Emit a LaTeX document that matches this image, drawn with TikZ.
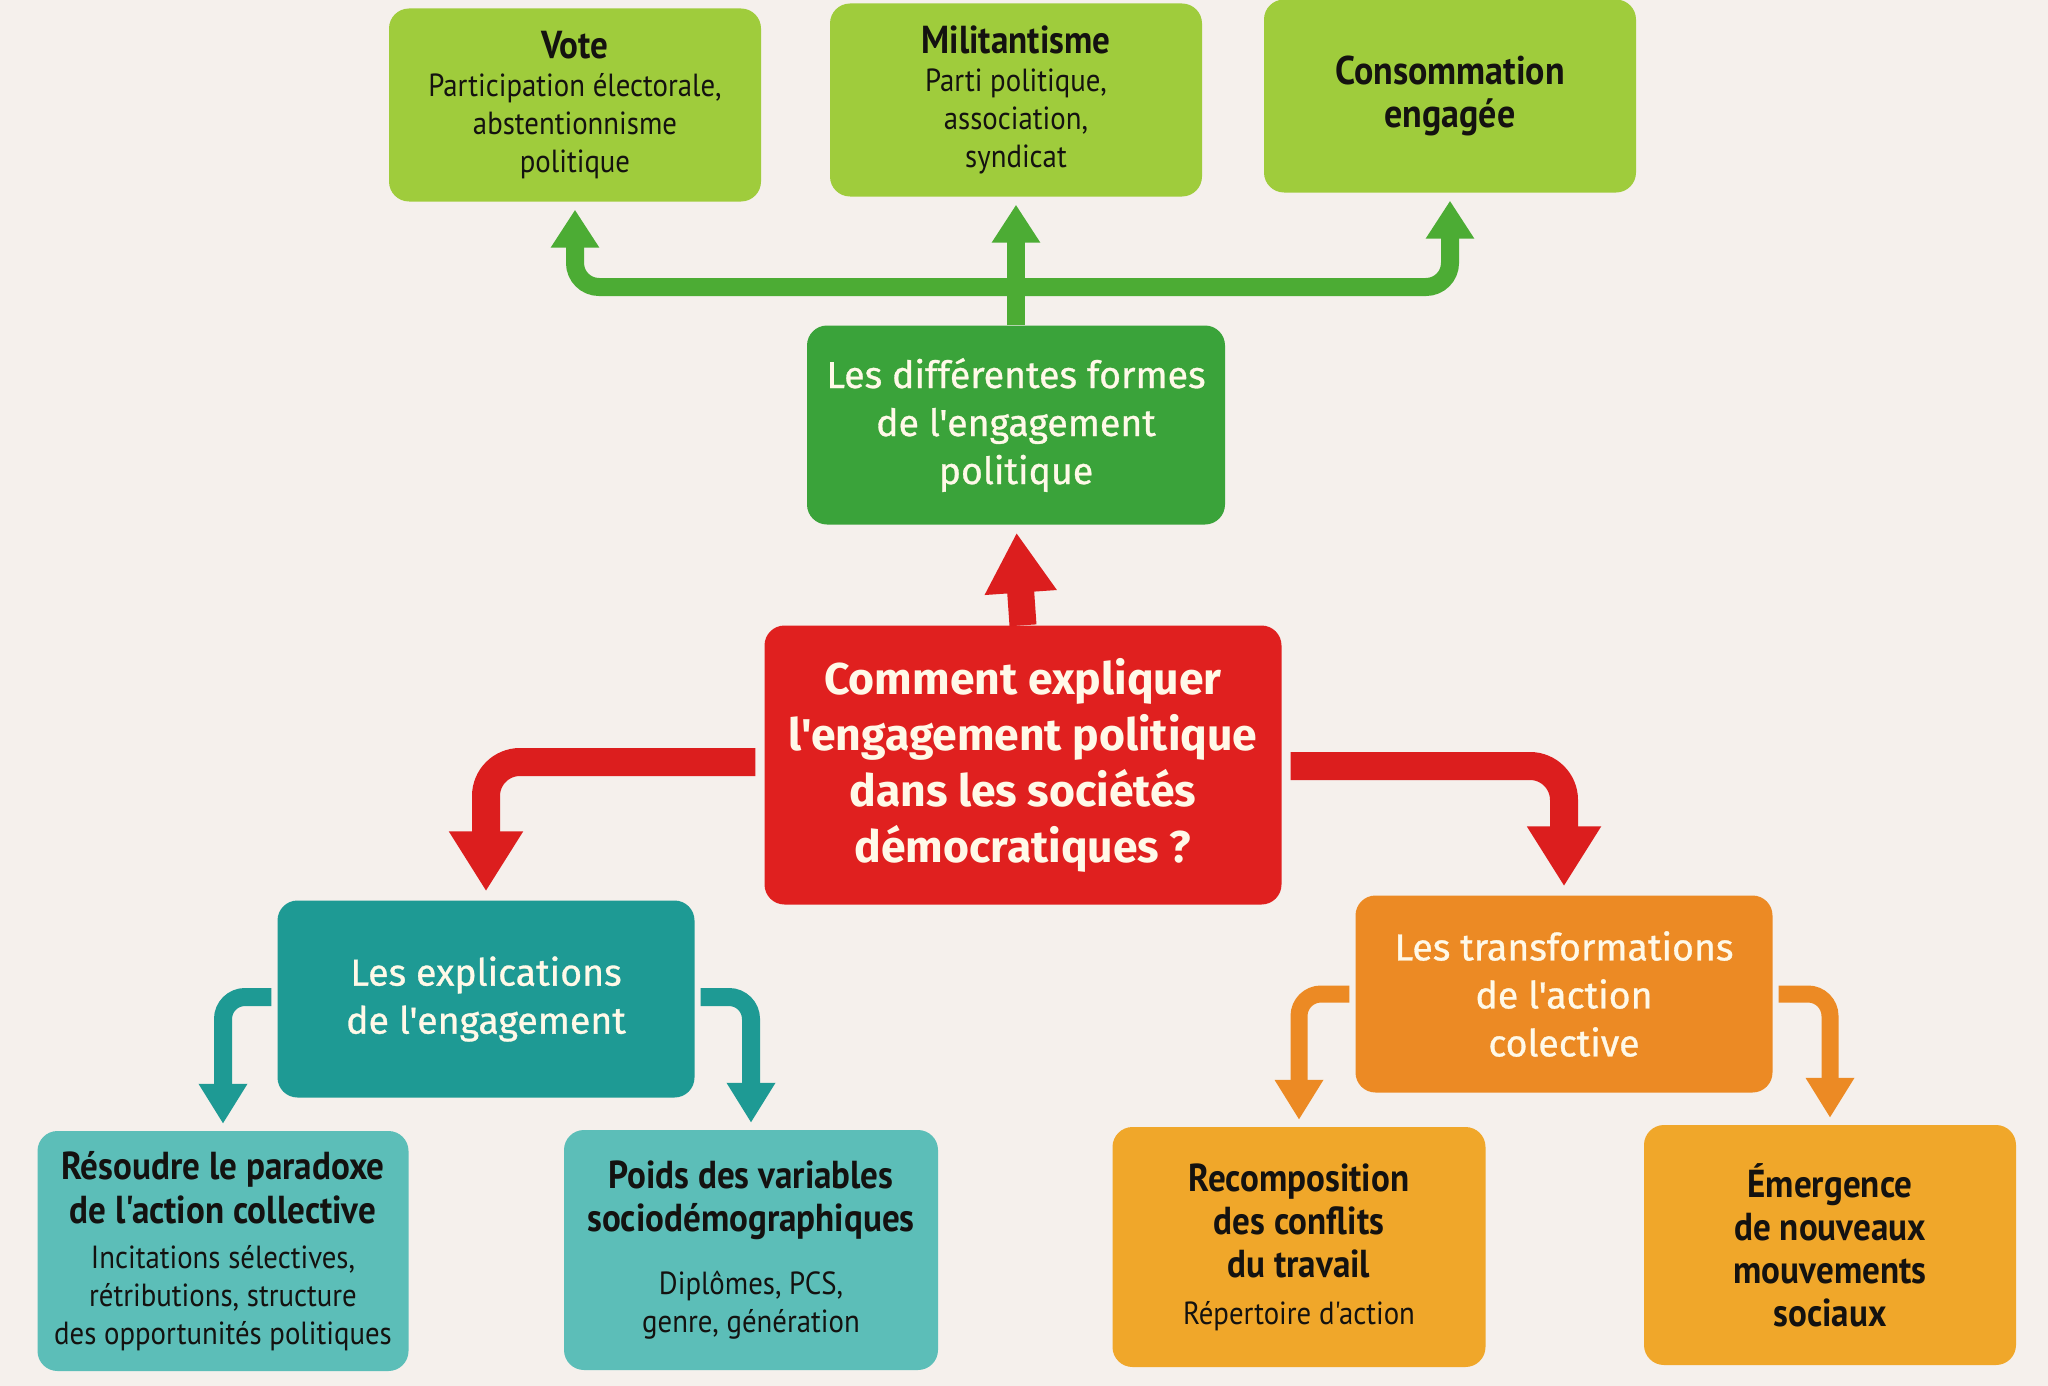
\documentclass[tikz,border=0pt]{standalone}
\usepackage{fontspec}
\setmainfont{Fira Sans}[Ligatures=TeXOff]
\newfontfamily\medfont[FakeBold=0.8,Ligatures=TeXOff]{Fira Sans}
\newfontfamily\condfont[FakeStretch=0.9]{PT Sans}
\usetikzlibrary{arrows.meta}

\definecolor{cBg}{RGB}{245,240,236}
\definecolor{cLime}{RGB}{159,204,60}
\definecolor{cGreen}{RGB}{58,163,58}
\definecolor{cGreenArr}{RGB}{76,172,52}
\definecolor{cRed}{RGB}{224,32,31}
\definecolor{cRedArr}{RGB}{220,30,30}
\definecolor{cTeal}{RGB}{30,154,148}
\definecolor{cTealLight}{RGB}{92,190,184}
\definecolor{cOrange}{RGB}{236,138,36}
\definecolor{cGold}{RGB}{240,167,42}
\definecolor{cInk}{RGB}{20,18,16}
\definecolor{cCream}{RGB}{255,249,232}

\newcommand\bxtitle{\bfseries\fontsize{39}{43}\selectfont}
\newcommand\tptitle{\bfseries\fontsize{39}{40}\selectfont}

\tikzset{
  boxbase/.style={rounded corners=20pt, align=center, inner sep=0pt},
  topbox/.style={boxbase, fill=cLime, minimum width=372pt, minimum height=193pt,
    text=cInk, font=\condfont\fontsize{32}{38}\selectfont},
  midbox/.style={boxbase, minimum width=417pt, minimum height=197pt,
    text=cCream, font=\medfont\fontsize{37.5}{48}\selectfont},
  qbox/.style={boxbase, fill=cRed, minimum width=517pt, minimum height=279pt,
    text=cCream, font=\bfseries\fontsize{44.5}{56}\selectfont},
  lowbox/.style={boxbase, minimum width=371pt, minimum height=240pt,
    text=cInk, font=\condfont\fontsize{32}{38}\selectfont},
  garrow/.style={draw=cGreenArr, line width=18pt, rounded corners=24pt,
    -{Triangle[length=38pt,width=46pt]}, shorten >=8pt},
  rarrowup/.style={draw=cRedArr, line width=27pt,
    -{Triangle[length=60pt,width=68pt]}, shorten >=8pt},
  rarrow/.style={draw=cRedArr, line width=28pt, rounded corners=34pt,
    -{Triangle[length=60pt,width=70pt]}, shorten <=9pt, shorten >=9pt},
  tarrow/.style={draw=cTeal, line width=18pt, rounded corners=22pt,
    -{Triangle[length=40pt,width=46pt]}, shorten <=6pt, shorten >=7pt},
  oarrow/.style={draw=cOrange, line width=17pt, rounded corners=22pt,
    -{Triangle[length=40pt,width=46pt]}, shorten <=6pt, shorten >=7pt},
}

\begin{document}
\begin{tikzpicture}[x=1pt,y=-1pt]
\useasboundingbox (0,0) rectangle (2048,1386);
\fill[cBg] (0,0) rectangle (2048,1386);

% top row
\node[topbox] (vote) at (575,105) {{\tptitle Vote}\\Participation électorale,\\abstentionnisme\\politique};
\node[topbox] (milit) at (1016,100) {{\tptitle Militantisme}\\Parti politique,\\association,\\syndicat};
\node[topbox, font=\condfont\bfseries\fontsize{40}{43}\selectfont] (conso) at (1450,96) {Consommation\\engagée};

% middle
\node[midbox, fill=cGreen, minimum width=418pt, minimum height=199pt] (formes) at (1016,425) {Les différentes formes\\de l'engagement\\politique};
\node[qbox] (question) at (1023,765) {Comment expliquer\\l'engagement politique\\dans les sociétés\\démocratiques ?};
\node[midbox, fill=cTeal] (expl) at (486,999) {Les explications\\de l'engagement};
\node[midbox, fill=cOrange] (transf) at (1564,994) {Les transformations\\de l'action\\colective};

% bottom row
\node[lowbox, fill=cTealLight] (paradoxe) at (223,1251) {{\bxtitle Résoudre le paradoxe}\\[6pt]{\bxtitle de l'action collective}\\[7pt]Incitations sélectives,\\rétributions, structure\\des opportunités politiques};
\node[lowbox, fill=cTealLight, minimum width=374pt] (poids) at (751,1250) {{\bxtitle Poids des variables}\\[5pt]{\bxtitle sociodémographiques}\\[25pt]Diplômes, PCS,\\genre, génération};
\node[lowbox, fill=cGold, minimum width=373pt] (recomp) at (1299,1247) {{\bxtitle Recomposition}\\[5pt]{\bxtitle des conflits}\\[5pt]{\bxtitle du travail}\\[9pt]Répertoire d'action};
\node[lowbox, fill=cGold, minimum width=372pt] (emerg) at (1830,1245) {{\bxtitle Émergence}\\[5pt]{\bxtitle de nouveaux}\\[5pt]{\bxtitle mouvements}\\[5pt]{\bxtitle sociaux}};

% green connectors
\coordinate (gj) at (1016,287);
\draw[garrow, rounded corners=0pt] (formes.north) -- (gj) -- (milit.south);
\draw[garrow] (gj) -| (vote.south);
\draw[garrow] (gj) -| (conso.south);

% red connectors
\draw[rarrowup] (question.north) -- (formes.south);
\draw[rarrow] ([yshift=3pt]question.west) -| (expl.north);
\draw[rarrow] ([yshift=-1pt]question.east) -| (transf.north);

% teal connectors
\draw[tarrow] ([yshift=2pt]expl.west) -| (paradoxe.north);
\draw[tarrow] ([yshift=2pt]expl.east) -| (poids.north);

% orange connectors
\draw[oarrow] (transf.west) -| (recomp.north);
\draw[oarrow] (transf.east) -| (emerg.north);
\end{tikzpicture}
\end{document}
